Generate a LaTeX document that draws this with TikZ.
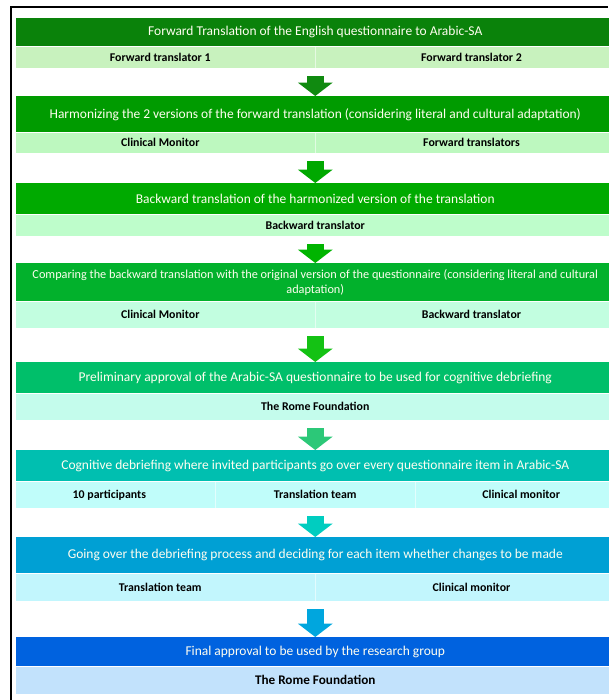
\documentclass[tikz,border=0pt]{standalone}
\usepackage{fontspec}
\setmainfont{Carlito}
\usetikzlibrary{arrows.meta,positioning,calc}
% stage bars
\definecolor{sOne}{HTML}{0A820A}
\definecolor{sTwo}{HTML}{009B00}
\definecolor{sThree}{HTML}{00AA00}
\definecolor{sFour}{HTML}{02B12C}
\definecolor{sFive}{HTML}{00BF6A}
\definecolor{sSix}{HTML}{00BFB0}
\definecolor{sSeven}{HTML}{00A0D4}
\definecolor{sEight}{HTML}{0062DF}
% role bands
\definecolor{bOne}{HTML}{C8F2BE}
\definecolor{bTwo}{HTML}{BDF8BF}
\definecolor{bThree}{HTML}{BEFDCB}
\definecolor{bFour}{HTML}{C2FEE0}
\definecolor{bFive}{HTML}{C4FCEC}
\definecolor{bSix}{HTML}{C0FDFA}
\definecolor{bSeven}{HTML}{C2F6FD}
\definecolor{bEight}{HTML}{C2E2FC}
% arrows
\definecolor{aOne}{HTML}{108A10}
\definecolor{aTwo}{HTML}{00A800}
\definecolor{aThree}{HTML}{00B400}
\definecolor{aFour}{HTML}{14C214}
\definecolor{aFive}{HTML}{2CC878}
\definecolor{aSix}{HTML}{00CDC0}
\definecolor{aSeven}{HTML}{00A6DE}

\begin{document}
\begin{tikzpicture}[x=0.75pt,y=-0.75pt,
  stage/.style={anchor=north west, minimum width=448.5pt, inner sep=0pt,
                text=white!94!yellow, align=center, font=\fontsize{10.1}{11.25}\selectfont},
  band/.style={below=0pt of #1, minimum width=448.5pt, inner sep=0pt},
  role/.style={inner sep=0pt, font=\fontsize{8.9}{10}\selectfont\bfseries},
  divider/.style={white!55!#1, line width=0.5pt},
  flow/.style={#1, line width=13pt, shorten <=6pt,
               -{Triangle[width=25.5pt,length=10pt]}}]

  \useasboundingbox (0,0) rectangle (608,700);

  % frame
  \draw[line width=1.6pt] (11,700) -- (11,7) -- (608,7);

  % stages
  \node[stage, fill=sOne,   minimum height=21pt]   (s1) at (16,18)
    {Forward Translation of the English questionnaire to Arabic-SA};
  \node[stage, fill=sTwo,   minimum height=27pt]   (s2) at (16,96)
    {Harmonizing the 2 versions of the forward translation (considering literal and cultural adaptation)};
  \node[stage, fill=sThree, minimum height=23.25pt] (s3) at (16,183)
    {Backward translation of the harmonized version of the translation};
  \node[stage, fill=sFour,  minimum height=28.5pt, font=\fontsize{9.2}{11.25}\selectfont] (s4) at (16,263)
    {Comparing the backward translation with the original version of the questionnaire (considering literal and cultural\\adaptation)};
  \node[stage, fill=sFive,  minimum height=23.25pt] (s5) at (16,362)
    {Preliminary approval of the Arabic-SA questionnaire to be used for cognitive debriefing};
  \node[stage, fill=sSix,   minimum height=23.25pt] (s6) at (16,450)
    {Cognitive debriefing where invited participants go over every questionnaire item in Arabic-SA};
  \node[stage, fill=sSeven, minimum height=27pt]   (s7) at (16,537)
    {Going over the debriefing process and deciding for each item whether changes to be made};
  \node[stage, fill=sEight, minimum height=21.75pt] (s8) at (16,637)
    {Final approval to be used by the research group};

  % role bands
  \node[band=s1, fill=bOne,   minimum height=15.75pt] (b1) {};
  \node[band=s2, fill=bTwo,   minimum height=15pt]    (b2) {};
  \node[band=s3, fill=bThree, minimum height=15.75pt] (b3) {};
  \node[band=s4, fill=bFour,  minimum height=19.5pt]  (b4) {};
  \node[band=s5, fill=bFive,  minimum height=19.5pt]  (b5) {};
  \node[band=s6, fill=bSix,   minimum height=19.5pt]  (b6) {};
  \node[band=s7, fill=bSeven, minimum height=20.25pt] (b7) {};
  \node[band=s8, fill=bEight, minimum height=20.25pt] (b8) {};

  % column dividers
  \foreach \b/\c in {b1/bOne,b2/bTwo,b4/bFour,b7/bSeven}
    \draw[divider=\c] (\b.north) -- (\b.south);
  \draw[divider=bSix] ($(b6.north west)!1/3!(b6.north east)$) -- ($(b6.south west)!1/3!(b6.south east)$);
  \draw[divider=bSix] ($(b6.north west)!2/3!(b6.north east)$) -- ($(b6.south west)!2/3!(b6.south east)$);

  % roles
  \node[role] (r1a) at ($(b1.west)!0.241!(b1.east)$) {Forward translator 1};
  \node[role] (r1b) at ($(b1.west)!0.761!(b1.east)$) {Forward translator 2};
  \node[role] (r2a) at ($(b2.west)!0.241!(b2.east)$) {Clinical Monitor};
  \node[role] (r2b) at ($(b2.west)!0.761!(b2.east)$) {Forward translators};
  \node[role] (r3)  at (b3.center) {Backward translator};
  \node[role] (r4a) at ($(b4.west)!0.241!(b4.east)$) {Clinical Monitor};
  \node[role] (r4b) at ($(b4.west)!0.761!(b4.east)$) {Backward translator};
  \node[role] (r5)  at (b5.center) {The Rome Foundation};
  \node[role] (r6a) at ($(b6.west)!0.156!(b6.east)$) {10 participants};
  \node[role] (r6b) at (b6.center) {Translation team};
  \node[role] (r6c) at ($(b6.west)!0.844!(b6.east)$) {Clinical monitor};
  \node[role] (r7a) at ($(b7.west)!0.241!(b7.east)$) {Translation team};
  \node[role] (r7b) at ($(b7.west)!0.761!(b7.east)$) {Clinical monitor};
  \node[role, font=\fontsize{9.9}{11}\selectfont\bfseries] (r8) at (b8.center) {The Rome Foundation};

  % arrows
  \draw[flow=aOne]   (b1.south) -- (s2.north);
  \draw[flow=aTwo]   (b2.south) -- (s3.north);
  \draw[flow=aThree] (b3.south) -- (s4.north);
  \draw[flow=aFour]  (b4.south) -- (s5.north);
  \draw[flow=aFive]  (b5.south) -- (s6.north);
  \draw[flow=aSix]   (b6.south) -- (s7.north);
  \draw[flow=aSeven] (b7.south) -- (s8.north);

\end{tikzpicture}
\end{document}
